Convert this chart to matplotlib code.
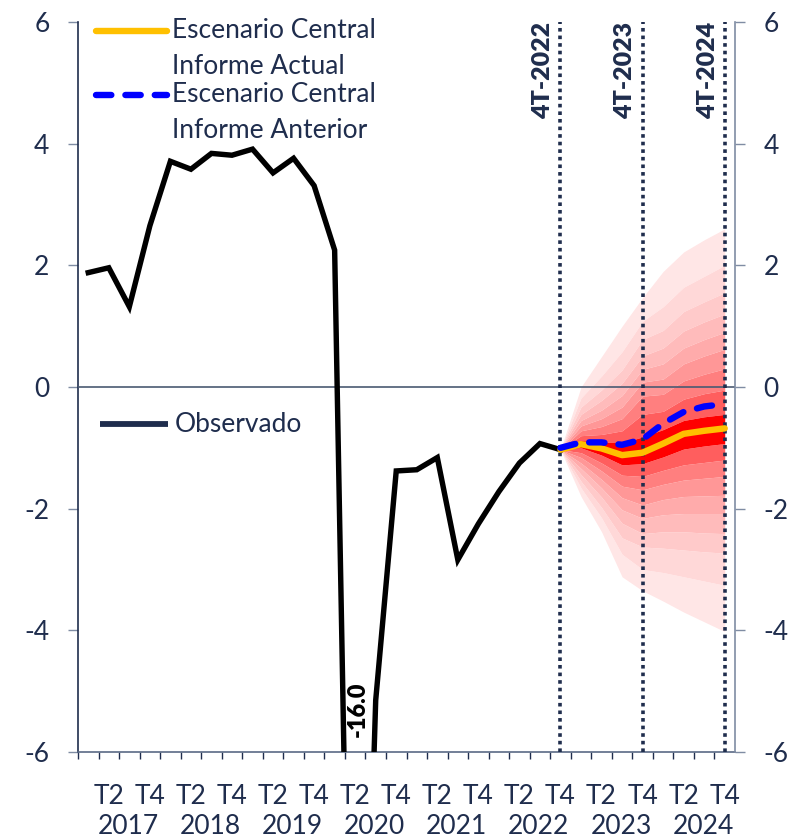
import matplotlib
matplotlib.use("Agg")
import matplotlib.pyplot as plt
from matplotlib.transforms import blended_transform_factory
import numpy as np

plt.rcParams['font.family'] = ['Lato', 'DejaVu Sans']

# ---- datos -------------------------------------------------------------
anios = [2017, 2018, 2019, 2020, 2021, 2022, 2023, 2024]
trimestres = ['T1', 'T2', 'T3', 'T4']
trimestres_rotulados = ['T2', 'T4']

# Serie observada, 2017-T1 a 2022-T4 (var. % anual)
observado = [1.88, 1.96, 1.32, 2.65,
             3.71, 3.58, 3.84, 3.81,
             3.91, 3.52, 3.76, 3.31,
             2.25, -16.0, -5.15, -1.38,
             -1.36, -1.16, -2.84, -2.25,
             -1.72, -1.25, -0.93, -1.03]

# Proyecciones, 2022-T4 a 2024-T4
escenario_actual = [-1.03, -0.94, -1.01, -1.12, -1.08, -0.93, -0.77, -0.72, -0.68]
escenario_anterior = [-1.00, -0.91, -0.91, -0.95, -0.86, -0.60, -0.41, -0.32, -0.28]

# Percentiles del fan chart, 2022-T4 a 2024-T4
fan_p95 = [-1.03, 0.00, 0.50, 1.00, 1.47, 1.90, 2.22, 2.42, 2.60]
fan_p90 = [-1.03, -0.18, 0.18, 0.58, 1.08, 1.32, 1.64, 1.82, 2.00]
fan_p85 = [-1.03, -0.33, -0.05, 0.28, 0.78, 0.93, 1.24, 1.40, 1.55]
fan_p80 = [-1.03, -0.45, -0.22, 0.06, 0.51, 0.64, 0.92, 1.07, 1.20]
fan_p75 = [-1.03, -0.55, -0.38, -0.14, 0.29, 0.38, 0.64, 0.78, 0.90]
fan_p70 = [-1.03, -0.64, -0.52, -0.33, 0.08, 0.13, 0.38, 0.51, 0.62]
fan_p65 = [-1.03, -0.72, -0.65, -0.52, -0.15, -0.12, 0.10, 0.21, 0.30]
fan_p60 = [-1.03, -0.80, -0.78, -0.72, -0.45, -0.40, -0.20, -0.11, -0.05]
fan_p55 = [-1.03, -0.88, -0.90, -0.92, -0.82, -0.70, -0.55, -0.49, -0.45]
fan_p45 = [-1.03, -1.00, -1.12, -1.28, -1.26, -1.15, -1.02, -0.97, -0.93]
fan_p40 = [-1.03, -1.08, -1.25, -1.45, -1.47, -1.37, -1.28, -1.24, -1.20]
fan_p35 = [-1.03, -1.16, -1.38, -1.63, -1.69, -1.60, -1.53, -1.50, -1.47]
fan_p30 = [-1.03, -1.25, -1.52, -1.82, -1.94, -1.85, -1.80, -1.79, -1.78]
fan_p25 = [-1.03, -1.34, -1.66, -2.02, -2.16, -2.10, -2.08, -2.08, -2.08]
fan_p20 = [-1.03, -1.44, -1.81, -2.24, -2.41, -2.38, -2.38, -2.40, -2.41]
fan_p15 = [-1.03, -1.55, -1.98, -2.48, -2.63, -2.65, -2.68, -2.71, -2.73]
fan_p10 = [-1.03, -1.66, -2.15, -2.75, -3.00, -3.05, -3.12, -3.19, -3.26]
fan_p05 = [-1.03, -1.80, -2.38, -3.12, -3.35, -3.52, -3.70, -3.86, -4.02]

# Hitos marcados con líneas verticales (cuarto trimestre de cada año)
anios_hito = [2022, 2023, 2024]

# ---- estilo --------------------------------------------------------------
NAVY = '#1F2D4D'
GRIS = '#7F8CA3'
AMARILLO = '#FFC000'
AZUL = '#0000FF'
ROJO = '#FF0000'
# tonos del abanico, del más externo al más interno
TONOS = ['#FFE6E6', '#FFD8D8', '#FFCACA', '#FFBBBB',
         '#FFABAB', '#FF9797', '#FF7F7F', '#FF5E5E']
FS = 19

# ---- ejes ----------------------------------------------------------------
categorias = [f"{t}-{a}" for a in anios for t in trimestres]
x = np.arange(len(categorias))
pos = {c: i for i, c in enumerate(categorias)}
x_obs = x[:len(observado)]
inicio_proy = len(observado) - 1
x_proy = x[inicio_proy:inicio_proy + len(escenario_actual)]

W, H = 791, 839
fig = plt.figure(figsize=(W / 100, H / 100), dpi=100)
ax_l, ax_r, ax_t, ax_b = 78, 735, 22, 752
ax = fig.add_axes([ax_l / W, 1 - ax_b / H, (ax_r - ax_l) / W, (ax_b - ax_t) / H])
ax.set_xlim(-0.5, len(categorias) - 0.5)
ax.set_ylim(-6, 6)

# abanico de probabilidades
superiores = [fan_p95, fan_p90, fan_p85, fan_p80, fan_p75, fan_p70, fan_p65, fan_p60, fan_p55]
inferiores = [fan_p05, fan_p10, fan_p15, fan_p20, fan_p25, fan_p30, fan_p35, fan_p40, fan_p45]
for i, tono in enumerate(TONOS):
    ax.fill_between(x_proy, superiores[i], superiores[i + 1], color=tono, lw=0, zorder=1)
    ax.fill_between(x_proy, inferiores[i], inferiores[i + 1], color=tono, lw=0, zorder=1)
ax.fill_between(x_proy, fan_p55, fan_p45, color=ROJO, lw=0, zorder=1)

# línea del cero
ax.axhline(0, color='#4A5A72', lw=1.2, zorder=3)

# líneas verticales de hitos
for a in anios_hito:
    xv = pos[f"T4-{a}"]
    ax.axvline(xv, color=NAVY, lw=2.6, linestyle=(0, (1, 1.1)), zorder=4)
    ax.text(xv - 0.3, 6.0, f"4T-{a}", rotation=90, ha='right', va='top',
            fontsize=18, fontweight='heavy', color=NAVY, zorder=8)

# series
ax.plot(x_obs, observado, color='black', lw=3.9, solid_joinstyle='miter', zorder=5)
ax.plot(x_proy, escenario_actual, color=AMARILLO, lw=4.6, solid_capstyle='round', zorder=6)
ax.plot(x_proy, escenario_anterior, color=AZUL, lw=4.6, dashes=(2.4, 2.2),
        dash_capstyle='round', zorder=7)

# valor fuera de escala
i_min = int(np.argmin(observado))
ax.text(x[i_min] + 0.12, -5.75, f"{observado[i_min]:.1f}", rotation=90, ha='center',
        va='bottom', fontsize=17, fontweight='heavy', color='black', zorder=8)

# ---- leyenda -------------------------------------------------------------
def fx(px):
    return (px - ax_l) / (ax_r - ax_l)

def fy(py):
    return (ax_b - py) / (ax_b - ax_t)

ta = ax.transAxes
ax.plot([fx(96), fx(167)], [fy(31), fy(31)], color=AMARILLO, lw=4.6,
        solid_capstyle='round', transform=ta, clip_on=False, zorder=9)
ax.text(fx(172), fy(31), "Escenario Central", transform=ta, ha='left', va='center',
        fontsize=FS, color=NAVY)
ax.text(fx(172), fy(66), "Informe Actual", transform=ta, ha='left', va='center',
        fontsize=FS, color=NAVY)
ax.plot([fx(96), fx(167)], [fy(95), fy(95)], color=AZUL, lw=4.6, dashes=(2.4, 2.2),
        dash_capstyle='round', transform=ta, clip_on=False, zorder=9)
ax.text(fx(172), fy(95), "Escenario Central", transform=ta, ha='left', va='center',
        fontsize=FS, color=NAVY)
ax.text(fx(172), fy(131), "Informe Anterior", transform=ta, ha='left', va='center',
        fontsize=FS, color=NAVY)
ax.plot([fx(100), fx(168)], [fy(424), fy(424)], color=NAVY, lw=4.2,
        solid_capstyle='butt', transform=ta, zorder=9)
ax.text(fx(175), fy(424), "Observado", transform=ta, ha='left', va='center',
        fontsize=FS, color=NAVY)

# ---- ejes y rótulos --------------------------------------------------------
yt = [-6, -4, -2, 0, 2, 4, 6]
ax.set_yticks(yt)
ax.set_yticklabels([str(v) for v in yt])
ax.tick_params(axis='y', direction='out', length=7.5, width=1, color=GRIS,
               labelsize=FS, labelcolor=NAVY, pad=13)

ax.set_xticks(x - 0.5, minor=True)
ax.set_xticks([])
ax.tick_params(axis='x', which='minor', direction='out', length=5, width=1, color=NAVY)

for s in ['top', 'right']:
    ax.spines[s].set_visible(False)
ax.spines['left'].set_color(NAVY)
ax.spines['left'].set_linewidth(1.2)
ax.spines['bottom'].set_color('#5A6A85')
ax.spines['bottom'].set_linewidth(1.2)

ax2 = ax.twinx()
ax2.set_ylim(-6, 6)
ax2.set_yticks(yt)
ax2.set_yticklabels([str(v) for v in yt])
ax2.tick_params(axis='y', direction='out', length=7.5, width=1, color=GRIS,
                labelsize=FS, labelcolor=NAVY, pad=13)
for s in ['top', 'left', 'bottom']:
    ax2.spines[s].set_visible(False)
ax2.spines['right'].set_color(GRIS)
ax2.spines['right'].set_linewidth(1.2)

# rótulos del eje horizontal: trimestres y años
bt = blended_transform_factory(ax.transData, ax.transAxes)
for c in categorias:
    t, a = c.split('-')
    if t in trimestres_rotulados:
        ax.text(pos[c], fy(797), t, transform=bt, ha='center', va='center',
                fontsize=FS, color=NAVY)
for a in anios:
    ax.text(pos[f"T3-{a}"] - 0.05, fy(827), str(a), transform=bt, ha='center',
            va='center', fontsize=FS, color=NAVY)

fig.savefig("out.png", dpi=100)
